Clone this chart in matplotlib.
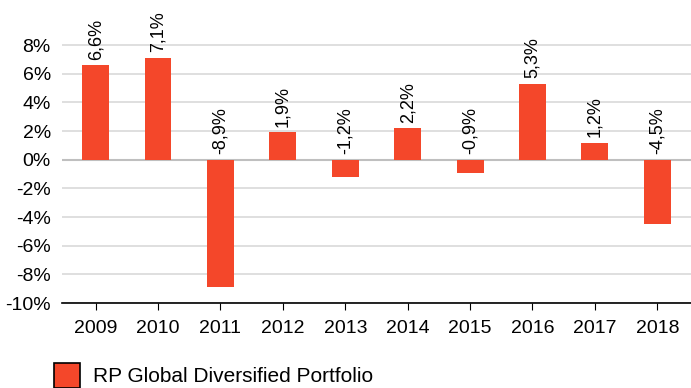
import matplotlib
matplotlib.use("Agg")
import matplotlib.pyplot as plt
from matplotlib.patches import Rectangle

plt.rcParams['font.family'] = ['Liberation Sans', 'DejaVu Sans']

years = ['2009', '2010', '2011', '2012', '2013', '2014', '2015', '2016', '2017', '2018']
returns = [6.6, 7.1, -8.9, 1.9, -1.2, 2.2, -0.9, 5.3, 1.2, -4.5]
series_name = 'RP Global Diversified Portfolio'
y_ticks = [-10, -8, -6, -4, -2, 0, 2, 4, 6, 8]

bar_color = '#F4472A'

fig = plt.figure(figsize=(6.91, 3.88), dpi=100)
ax = fig.add_axes([0.0897, 0.219, 0.9103, 0.735])

x = list(range(len(years)))
ax.bar(x, returns, width=0.43, color=bar_color, zorder=3)

for xi, v in zip(x, returns):
    label = f"{v:.1f}%".replace('.', ',')
    base = max(v, 0)
    ax.annotate(label, (xi, base), xytext=(0, 4), textcoords='offset points',
                rotation=90, ha='center', va='bottom', fontsize=13, color='black')

ax.set_xlim(-0.54, len(years) - 0.46)
ax.set_ylim(-10, 9.9)
ax.set_yticks(y_ticks)
ax.set_yticklabels([f"{t}%" for t in y_ticks], fontsize=14)
ax.set_xticks(x)
ax.set_xticklabels(years, fontsize=14)

ax.yaxis.grid(True, color='#d9d9d9', linewidth=1.2, zorder=0)
ax.axhline(0, color='#bfbfbf', linewidth=1.5, zorder=2)
for side in ['top', 'right', 'left']:
    ax.spines[side].set_visible(False)
ax.spines['bottom'].set_color('black')
ax.spines['bottom'].set_linewidth(1.2)
ax.tick_params(axis='y', length=0, pad=8)
ax.tick_params(axis='x', length=5, color='black', pad=7)

# legend entry at the bottom
fig.patches.append(Rectangle((54 / 691, 0), 26 / 691, 25 / 388, transform=fig.transFigure,
                             facecolor=bar_color, edgecolor='black', linewidth=1.2))
fig.text(93 / 691, 11 / 388, series_name, fontsize=15, va='center', ha='left')

fig.savefig('out.png', dpi=100)
